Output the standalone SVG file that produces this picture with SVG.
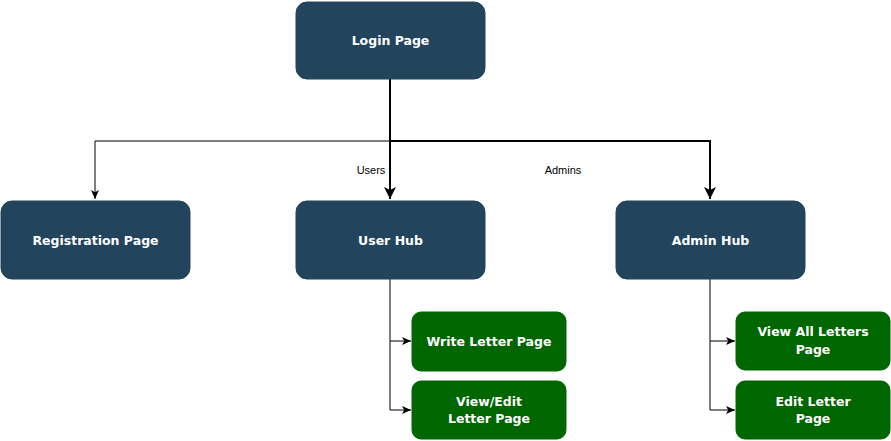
<svg xmlns="http://www.w3.org/2000/svg" width="891" height="441" viewBox="0 0 891 441">
<style>
.blue{fill:#23445d;stroke:#23445d;stroke-width:1}
.green{fill:#006600;stroke:#006600;stroke-width:1}
.t{font-family:"DejaVu Sans",Verdana,sans-serif;font-weight:bold;font-size:12.5px;fill:#ffffff;text-anchor:middle}
.lbl{font-family:"Liberation Sans",Arial,sans-serif;font-size:11px;fill:#000000;text-anchor:middle}
.thin{fill:none;stroke:#000;stroke-width:1}
.thick{fill:none;stroke:#000;stroke-width:2}
</style>
<defs>
<marker id="a1" markerWidth="11" markerHeight="11" refX="9" refY="5.5" orient="auto" markerUnits="userSpaceOnUse">
<path d="M0,1.5 L9,5.5 L0,9.5 L2.2,5.5 Z" fill="#000"/>
</marker>
<marker id="a2" markerWidth="14" markerHeight="14" refX="12" refY="7" orient="auto" markerUnits="userSpaceOnUse">
<path d="M0,1 L12,7 L0,13 L3,7 Z" fill="#000"/>
</marker>
</defs>
<g id="connectors">
<path class="thin" d="M390,141 L95,141 L95,199" marker-end="url(#a1)"/>
<path class="thick" d="M390,79 L390,199" marker-end="url(#a2)"/>
<path class="thick" d="M390,141 L710,141 L710,199" marker-end="url(#a2)"/>
<path class="thin" d="M390,279 L390,341 L411,341" marker-end="url(#a1)"/>
<path class="thin" d="M390,341 L390,410 L411,410" marker-end="url(#a1)"/>
<path class="thin" d="M710,279 L710,341 L735,341" marker-end="url(#a1)"/>
<path class="thin" d="M710,341 L710,410 L735,410" marker-end="url(#a1)"/>
<text class="lbl" x="371" y="174">Users</text>
<text class="lbl" x="563" y="174">Admins</text>
</g>
<g id="login">
<rect class="blue" x="296" y="2" width="189" height="77" rx="11"/>
<text class="t" x="390.5" y="45">Login Page</text>
</g>
<g id="registration">
<rect class="blue" x="1" y="201" width="189" height="78" rx="11"/>
<text class="t" x="95.5" y="245">Registration Page</text>
</g>
<g id="userhub">
<rect class="blue" x="296" y="201" width="189" height="78" rx="11"/>
<text class="t" x="390.5" y="245">User Hub</text>
</g>
<g id="adminhub">
<rect class="blue" x="616" y="201" width="189" height="78" rx="11"/>
<text class="t" x="710.5" y="245">Admin Hub</text>
</g>
<g id="write">
<rect class="green" x="412" y="312" width="154" height="59" rx="9"/>
<text class="t" x="489" y="346">Write Letter Page</text>
</g>
<g id="viewedit">
<rect class="green" x="412" y="381" width="154" height="58" rx="9"/>
<text class="t" x="489" y="406">View/Edit</text>
<text class="t" x="489" y="423">Letter Page</text>
</g>
<g id="viewall">
<rect class="green" x="736" y="312" width="154" height="58" rx="9"/>
<text class="t" x="813" y="336">View All Letters</text>
<text class="t" x="813" y="354">Page</text>
</g>
<g id="editletter">
<rect class="green" x="736" y="381" width="154" height="58" rx="9"/>
<text class="t" x="813" y="406">Edit Letter</text>
<text class="t" x="813" y="423">Page</text>
</g>
</svg>
